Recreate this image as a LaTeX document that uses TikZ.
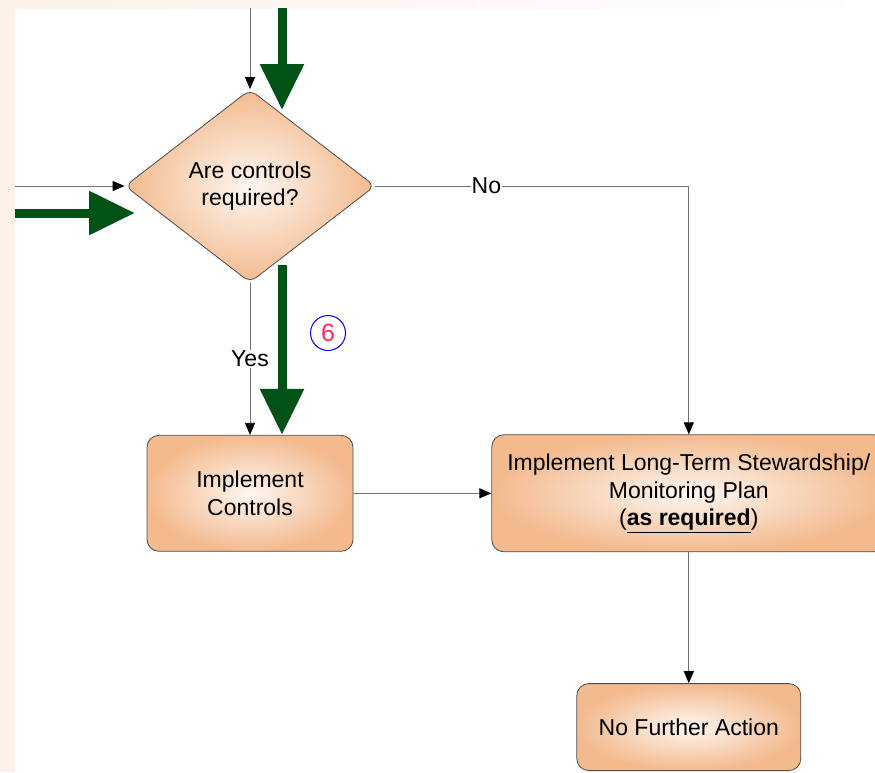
\documentclass[tikz,border=0pt]{standalone}
\usepackage{fontspec}
\setmainfont{Liberation Sans}
\usetikzlibrary{arrows.meta}
\usetikzlibrary{positioning}
\usetikzlibrary{shapes.geometric}

\definecolor{peach}{RGB}{243,186,142}
\definecolor{flowgreen}{RGB}{0,82,22}
\definecolor{pagetint}{RGB}{251,241,233}
\definecolor{sixred}{RGB}{255,40,90}

\tikzset{
  stepshape/.style={draw=black!70, line width=0.8pt, shading=radial,
    inner color=white!88!peach, outer color=peach,
    font=\fontsize{23}{27.5}\selectfont, align=center},
  taskbox/.style={stepshape, rectangle, rounded corners=12pt},
  askbox/.style={stepshape, diamond, rounded corners=8pt,
    minimum width=250pt, minimum height=193pt, inner sep=0pt},
  flow/.style={draw=black!55, line width=0.8pt,
    -{Triangle[width=10pt,length=12pt,color=black]}},
  mainpath/.style={draw=flowgreen, line width=9pt,
    -{Triangle[width=42pt,length=46pt]}},
  branch/.style={fill=white, inner sep=1pt, font=\fontsize{23}{26}\selectfont},
}

\begin{document}
\begin{tikzpicture}[x=1pt, y=-1pt]
    \useasboundingbox (0,0) rectangle (875,772);
    % page background
    \fill[pagetint] (0,0) rectangle (15,772);
    \shade[left color=pagetint, right color=white] (15,0) rectangle (875,8);

    % steps
    \node[askbox] (ask) at (250,186) {Are controls\\required?};
    \node[taskbox, minimum width=206pt, minimum height=116pt,
      below=152pt of ask] (ctrl) {Implement\\Controls};
    \node[taskbox, minimum width=394pt, minimum height=117pt,
      right=138pt of ctrl] (lts) {Implement Long-Term Stewardship/\\Monitoring Plan\\(\underline{\textbf{as required}})};
    \node[taskbox, minimum width=224pt, minimum height=87pt,
      below=131pt of lts] (nfa) {No Further Action};
    \node[circle, draw=blue, line width=1pt, minimum size=35pt, inner sep=0pt,
      text=sixred, font=\fontsize{25}{28}\selectfont] (six) at (328,333) {6};

    % free ends
    \coordinate (topin) at (250,8);
    \coordinate (leftin) at (15,186);
    \coordinate (greentop) at (282,8);
    \coordinate (greenin) at (282,110);
    \coordinate (greenleft) at (15,213);
    \coordinate (greenleftin) at (135,213);
    \coordinate (greenout) at (282,265);

    % thin connectors
    \draw[flow] (topin) -- (ask.north);
    \draw[flow] (leftin) -- (ask.west);
    \draw[flow] (ask.south) -- node[branch]{Yes} (ctrl.north);
    \draw[flow] (ask.east) -| node[branch, pos=0.177]{No} (lts.north);
    \draw[flow] (ctrl) -- (lts);
    \draw[flow] (lts) -- (nfa);

    % highlighted path
    \draw[mainpath] (greentop) -- (greenin);
    \draw[mainpath] (greenleft) -- (greenleftin);
    \draw[mainpath] (greenout) -- (ctrl.north -| greenout);
  \end{tikzpicture}
\end{document}
